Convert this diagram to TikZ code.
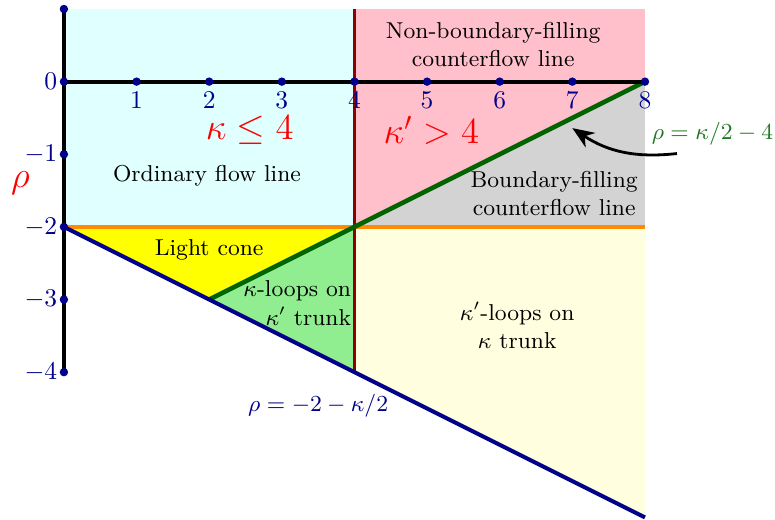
\documentclass[tikz,border=0pt]{standalone}
\usepackage{amsmath,amssymb}
\usetikzlibrary{arrows.meta}
\definecolor{regcyan}{RGB}{224,255,255}
\definecolor{regpink}{RGB}{255,192,203}
\definecolor{reggray}{RGB}{211,211,211}
\definecolor{regyellow}{RGB}{255,255,0}
\definecolor{reggreen}{RGB}{144,238,144}
\definecolor{reglyellow}{RGB}{255,255,224}
\definecolor{navyc}{RGB}{0,0,139}
\definecolor{darkredc}{RGB}{139,0,0}
\definecolor{orangec}{RGB}{255,140,0}
\definecolor{greenc}{RGB}{0,100,0}
\definecolor{labgreen}{RGB}{34,120,34}
\tikzset{
  dotmark/.style={circle,fill=navyc,inner sep=0pt,minimum size=1.16mm},
  ticklab/.style={text=navyc,inner sep=1pt},
  regionlab/.style={align=center,text=black,font=\small,inner sep=0pt},
  biglab/.style={text=red,font=\Large,inner sep=0pt},
  linelab/.style={font=\small,inner sep=0pt},
}
\begin{document}
\begin{tikzpicture}
\useasboundingbox (-0.88,-6.03) rectangle (9.79,1.124);
% regions
\fill[regcyan] (0,1) rectangle (4,-2);
\fill[regpink] (4,1) -- (8,1) -- (8,0) -- (4,-2) -- cycle;
\fill[reggray] (4,-2) -- (8,0) -- (8,-2) -- cycle;
\fill[regyellow] (0,-2) -- (4,-2) -- (2,-3) -- cycle;
\fill[reggreen] (2,-3) -- (4,-2) -- (4,-4) -- cycle;
\fill[reglyellow] (4,-2) -- (8,-2) -- (8,-6) -- (4,-4) -- cycle;
% coordinates
\coordinate (O) at (0,0);
\coordinate (Ytop) at (0,1);
\coordinate (Ybot) at (0,-4);
\coordinate (X8) at (8,0);
\coordinate (M0) at (0,-2);
\coordinate (M8) at (8,-2);
\coordinate (R1) at (4,1);
\coordinate (R2) at (4,-4);
\coordinate (G1) at (2,-3);
\coordinate (B2) at (8,-6);
% lines
\draw[orangec,line width=1.6pt] (M0) -- (M8);
\draw[darkredc,line width=1.5pt] (R1) -- (R2);
\draw[greenc,line width=1.8pt] (G1) -- (X8);
\draw[navyc,line width=1.6pt] (M0) -- (B2);
\draw[black,line width=1.6pt] (Ytop) -- (Ybot);
\draw[black,line width=1.6pt] (O) -- (X8);
% dots and tick labels
\foreach \i in {1,...,8} {
  \node[dotmark] (xd\i) at (\i,0) {};
  \node[ticklab,anchor=north] (xl\i) at (\i,-0.1) {$\i$};
}
\node[dotmark] (yd1) at (0,1) {};
\foreach \j in {0,1,2,3,4} {
  \node[dotmark] (ydm\j) at (0,-\j) {};
}
\node[ticklab,anchor=east] (yl0) at (-0.05,0) {$0$};
\foreach \j in {1,2,3,4} {
  \node[ticklab,anchor=east] (yl\j) at (-0.05,-\j) {$-\j$};
}
% labels
\node[biglab] (kle) at (2.56,-0.67) {$\kappa\le 4$};
\node[biglab] (kgt) at (5.06,-0.67) {$\kappa'>4$};
\node[text=red,font=\Large,inner sep=0pt] (rho) at (-0.6,-1.4) {$\rho$};
\node[regionlab] (nbf) at (5.91,0.51) {Non-boundary-filling\\counterflow line};
\node[regionlab] (bf) at (6.75,-1.54) {Boundary-filling\\counterflow line};
\node[regionlab] (ord) at (1.97,-1.29) {Ordinary flow line};
\node[regionlab] (lc) at (2.0,-2.31) {Light cone};
\node[regionlab,align=right,anchor=east] (kl) at (3.96,-3.05) {$\kappa$-loops on\\$\kappa'$ trunk};
\node[regionlab] (kpl) at (6.24,-3.36) {$\kappa'$-loops on\\$\kappa$ trunk};
\node[linelab,text=navyc] (lineb) at (3.5,-4.46) {$\rho=-2-\kappa/2$};
\node[linelab,text=labgreen] (lineg) at (8.93,-0.72) {$\rho=\kappa/2-4$};
\coordinate (arrs) at (8.44,-0.99);
\coordinate (arre) at (7.0,-0.64);
\draw[-{Stealth[length=3mm,width=2.4mm]},line width=1.1pt] (arrs) to[bend left=20] (arre);
\end{tikzpicture}
\end{document}
